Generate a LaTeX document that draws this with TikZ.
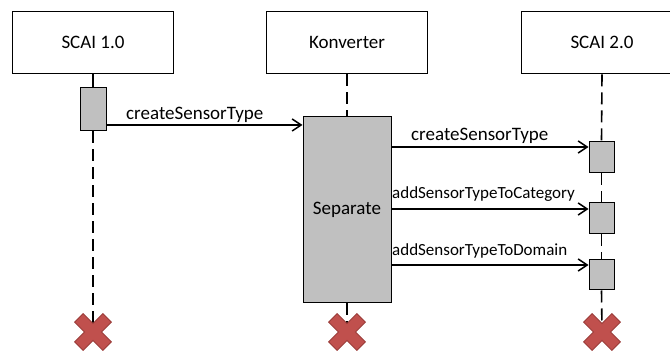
\documentclass[tikz,border=0pt]{standalone}
\usepackage{fontspec}
\setmainfont{Carlito}
\usetikzlibrary{arrows.meta}
\definecolor{actgray}{HTML}{C0C0C0}
\definecolor{xred}{HTML}{C0504D}
\definecolor{xredline}{HTML}{9A3A37}

\begin{document}
\begin{tikzpicture}[x=1pt,y=-1pt,
  obj/.style={draw, line width=1.6pt, minimum width=161pt, minimum height=62pt,
              inner sep=0pt, font=\fontsize{19}{23}\selectfont},
  act/.style={draw, fill=actgray, line width=1pt, inner sep=0pt},
  lifesolid/.style={line width=1.6pt},
  lifedash/.style={line width=1.6pt, dash pattern=on 12pt off 6pt},
  msg/.style={line width=1.5pt,
              -{Straight Barb[length=9pt,width=12pt,line width=1.5pt]}},
  bigtext/.style={font=\fontsize{19}{23}\selectfont, inner sep=0pt},
  smalltext/.style={font=\fontsize{17}{20}\selectfont, inner sep=0pt},
  xcross/.pic={
    \filldraw[fill=xred, draw=xredline, line width=0.8pt, rotate=45]
      (6,20) -- (6,6) -- (20,6) -- (20,-6) -- (6,-6) -- (6,-20)
      -- (-6,-20) -- (-6,-6) -- (-20,-6) -- (-20,6) -- (-6,6) -- (-6,20) -- cycle;
  }]
\clip (0,0) rectangle (670,355);
\useasboundingbox (0,0) rectangle (670,355);

% participants
\node[obj] (s1) at (93,42.5)  {SCAI 1.0};
\node[obj] (kv) at (347,42.5) {Konverter};
\node[obj] (s2) at (602,42.5) {SCAI 2.0};

% activation bars
\node[act, minimum width=26pt, minimum height=43pt] (a1) at (93,109.5) {};
\node[act, minimum width=88pt, minimum height=186pt, bigtext] (sep) at (347,210) {Separate};
\node[act, minimum width=25pt, minimum height=31pt] (b1) at (601.5,157.5) {};
\node[act, minimum width=25pt, minimum height=31pt] (b2) at (601.5,218.5) {};
\node[act, minimum width=25pt, minimum height=30pt] (b3) at (601.5,275) {};

% lifeline ends
\coordinate (x1) at (93,332);
\coordinate (x2) at (347,332);
\coordinate (x3) at (602,332);

% lifelines
\draw[lifesolid] (s1.south) -- (a1.north);
\draw[lifedash] (a1.south) -- (x1);
\draw[lifedash] (kv.south) -- (sep.north);
\draw[lifedash] (sep.south) -- (x2);
\draw[lifedash] (s2.south) -- (b1.north);
\draw[lifedash] (b1.south) -- (b2.north);
\draw[lifedash] (b2.south) -- (b3.north);
\draw[lifedash] (b3.south) -- (x3);

% destruction marks
\pic at (x1) {xcross};
\pic at (x2) {xcross};
\pic at (x3) {xcross};

% message rows
\coordinate (m1) at (0,125);
\coordinate (m2) at (0,147);
\coordinate (m3) at (0,209);
\coordinate (m4) at (0,265);

\draw[msg] (a1.east |- m1) -- (sep.west |- m1);
\draw[msg] (sep.east |- m2) -- (b1.west |- m2);
\draw[msg] (sep.east |- m3) -- (b2.west |- m3);
\draw[msg] (sep.east |- m4) -- (b3.west |- m4);

% message labels
\node[bigtext, anchor=base west] (l1) at (126,120) {createSensorType};
\node[bigtext, anchor=base west] (l2) at (411,141) {createSensorType};
\node[smalltext, anchor=base west] (l3) at (392,199) {addSensorTypeToCategory};
\node[smalltext, anchor=base west] (l4) at (392,256) {addSensorTypeToDomain};
\end{tikzpicture}
\end{document}
